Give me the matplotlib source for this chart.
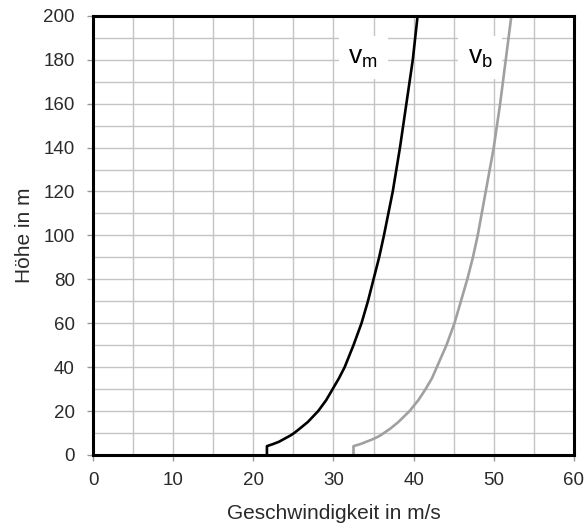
import matplotlib.pyplot as plt
from matplotlib.ticker import MultipleLocator

plt.rcParams["font.family"] = ["Liberation Sans", "DejaVu Sans"]

# heights in m and wind speeds in m/s
hoehe = [0, 4, 5, 6, 7, 8, 9, 10, 12, 15, 20, 25, 30, 35, 40, 50, 60, 70,
         80, 90, 100, 120, 140, 160, 180, 200]
v_m = [21.7, 21.7, 22.5, 23.2, 23.7, 24.2, 24.7, 25.1, 25.8, 26.8, 28.1,
       29.1, 29.9, 30.7, 31.4, 32.5, 33.5, 34.3, 35.0, 35.7, 36.3, 37.4,
       38.3, 39.1, 39.9, 40.5]
v_b = [32.5, 32.5, 33.4, 34.1, 34.8, 35.4, 35.9, 36.3, 37.1, 38.1, 39.5,
       40.6, 41.5, 42.3, 42.9, 44.1, 45.1, 45.9, 46.7, 47.4, 48.0, 49.0,
       50.0, 50.8, 51.5, 52.2]

fig = plt.figure(figsize=(5.85, 5.29), dpi=100)
ax = fig.add_axes([0.159, 0.140, 0.822, 0.830])

ax.plot(v_m, hoehe, color="black", lw=1.9, zorder=3)
ax.plot(v_b, hoehe, color="#a0a0a0", lw=1.9, zorder=3)

ax.set_xlim(0, 60)
ax.set_ylim(0, 200)
ax.xaxis.set_major_locator(MultipleLocator(10))
ax.xaxis.set_minor_locator(MultipleLocator(5))
ax.yaxis.set_major_locator(MultipleLocator(20))
ax.yaxis.set_minor_locator(MultipleLocator(10))
ax.grid(True, which="both", color="#c4c4c4", lw=1.0, zorder=0)
ax.set_axisbelow(True)

ax.tick_params(which="major", length=4, width=1, color="#999999",
               labelsize=13.5, labelcolor="#2a2a2a")
ax.tick_params(axis="y", pad=9)
ax.tick_params(axis="x", pad=8)
ax.tick_params(which="minor", length=0)
for s in ax.spines.values():
    s.set_linewidth(2.2)
    s.set_color("black")
    s.set_zorder(4)

box = dict(facecolor="white", edgecolor="none", pad=7)
ax.text(33.7, 181, r"$\mathregular{v_m}$", fontsize=19, ha="center", va="center",
        bbox=box, zorder=2)
ax.text(48.3, 181, r"$\mathregular{v_b}$", fontsize=19, ha="center", va="center",
        bbox=box, zorder=2)

ax.set_xlabel("Geschwindigkeit in m/s", fontsize=15, color="#2a2a2a", labelpad=11)
ax.set_ylabel("Höhe in m", fontsize=15, color="#2a2a2a", labelpad=7)

fig.savefig("out.png", dpi=100)
